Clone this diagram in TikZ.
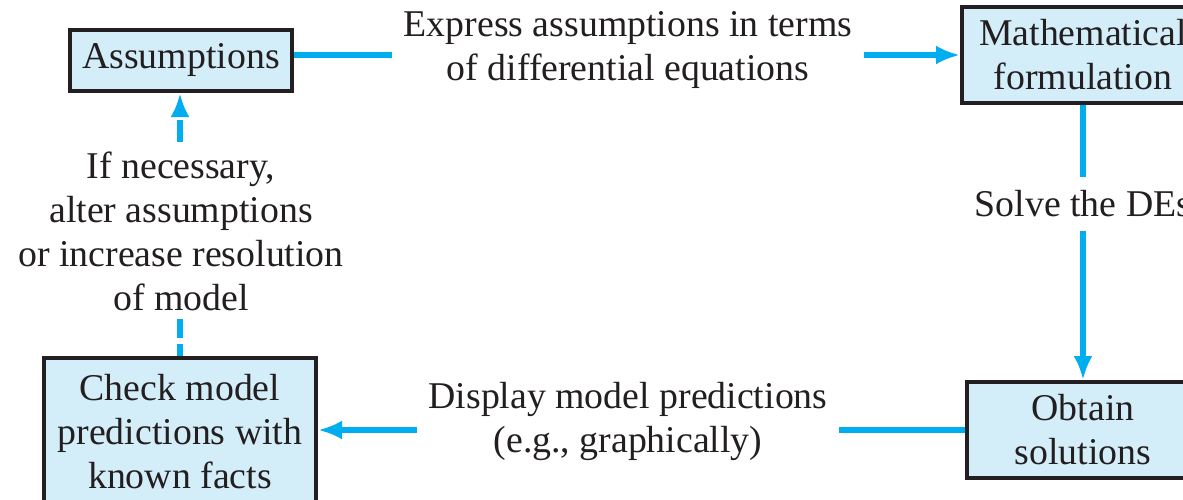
\documentclass[tikz,border=0pt]{standalone}
\usepackage{fontspec}
\setmainfont{Liberation Serif}
\usetikzlibrary{arrows.meta}
\definecolor{boxfill}{HTML}{D4EEF9}
\definecolor{boxline}{HTML}{231F20}
\definecolor{flow}{HTML}{00AEEF}
\begin{document}
\begin{tikzpicture}[x=1pt,y=-1pt,
  every node/.style={text=boxline,font=\fontsize{37.8}{44}\selectfont},
  stepbox/.style={draw=boxline,line width=4pt,fill=boxfill,align=center,inner sep=0pt},
  flowline/.style={draw=flow,line width=5.5pt},
  arr/.style={-{Latex[length=24pt,width=19pt]}},
  lbl/.style={fill=white,align=center,inner xsep=10pt,inner ysep=4pt}]
\useasboundingbox (0,0) rectangle (1183,499);
\clip (0,0) rectangle (1183,499);
\fill[white] (0,0) rectangle (1183,499);
% boxes
\node[stepbox,minimum width=222pt,minimum height=61pt] (ass) at (181,60.5) {Assumptions};
\node[stepbox,minimum width=242pt,minimum height=96pt] (math) at (1083,55) {Mathematical\\formulation};
\node[stepbox,minimum width=232pt,minimum height=96pt] (obt) at (1083,430) {Obtain\\solutions};
\node[stepbox,minimum width=272pt,minimum height=147pt] (chk) at (180,431.5) {Check model\\predictions with\\known facts};
% connectors
\draw[flowline,arr] (ass.east |- math.west) -- (math.west);
\node[lbl,inner xsep=12pt] (l1) at (628,50) {Express assumptions in terms\\of differential equations};
\draw[flowline,arr] (math.south) -- (obt.north);
\node[lbl,inner ysep=14pt] (l2) at (1083,204) {Solve the DEs};
\draw[flowline,arr] (obt.west) -- (chk.east |- obt.west);
\node[lbl,inner xsep=12pt] (l3) at (628,421) {Display model predictions\\(e.g., graphically)};
\draw[flowline,arr,dash pattern=on 22pt off 6pt,dash phase=10pt] (chk.north) -- (ass.south -| chk.north);
\node[lbl,inner ysep=8pt] (l4) at (181,231) {If necessary,\\alter assumptions\\or increase resolution\\of model};
\end{tikzpicture}
\end{document}
